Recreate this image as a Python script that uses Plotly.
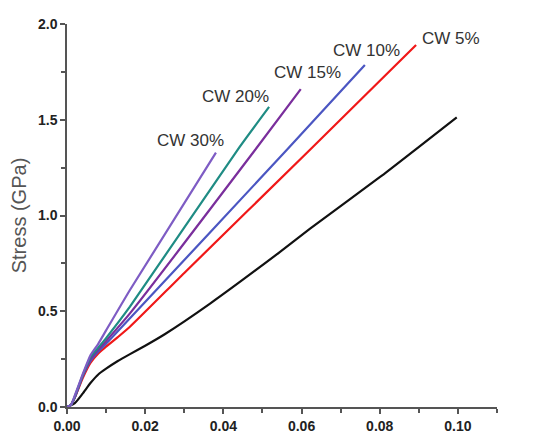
import plotly.graph_objects as go

# Strain values (x) and stress values (GPa) per sample
neat_x = [0, 0.002, 0.004, 0.006, 0.008, 0.010, 0.013, 0.016, 0.02, 0.025, 0.0366, 0.0545, 0.0621, 0.08, 0.0997]
neat_y = [0, 0.02, 0.07, 0.125, 0.17, 0.20, 0.24, 0.275, 0.32, 0.38, 0.54, 0.81, 0.93, 1.20, 1.513]

cw5_x = [0, 0.001, 0.002, 0.004, 0.006, 0.008, 0.010, 0.013, 0.0161, 0.03, 0.0621, 0.0893]
cw5_y = [0, 0.01, 0.05, 0.15, 0.23, 0.28, 0.315, 0.365, 0.419, 0.70, 1.342, 1.89]

cw10_x = [0, 0.001, 0.002, 0.004, 0.006, 0.008, 0.010, 0.0161, 0.0562, 0.0762]
cw10_y = [0, 0.01, 0.05, 0.16, 0.24, 0.29, 0.33, 0.463, 1.342, 1.786]

cw15_x = [0, 0.001, 0.002, 0.004, 0.006, 0.008, 0.010, 0.0161, 0.0481, 0.0598]
cw15_y = [0, 0.01, 0.05, 0.16, 0.25, 0.30, 0.345, 0.489, 1.342, 1.66]

cw20_x = [0, 0.001, 0.002, 0.004, 0.006, 0.008, 0.010, 0.0161, 0.0436, 0.0517]
cw20_y = [0, 0.01, 0.055, 0.165, 0.26, 0.31, 0.36, 0.524, 1.342, 1.567]

cw30_x = [0, 0.001, 0.002, 0.004, 0.006, 0.008, 0.010, 0.0161, 0.0381]
cw30_y = [0, 0.01, 0.06, 0.17, 0.27, 0.33, 0.40, 0.611, 1.328]

series = [
    ("Neat PVA", neat_x, neat_y, "#111111", (0.1110, 1.525)),
    ("CW 5%", cw5_x, cw5_y, "#f01818", (0.0982, 1.922)),
    ("CW 10%", cw10_x, cw10_y, "#4b56c2", (0.0765, 1.864)),
    ("CW 15%", cw15_x, cw15_y, "#7a2e9c", (0.0616, 1.749)),
    ("CW 20%", cw20_x, cw20_y, "#1f8c84", (0.0430, 1.619)),
    ("CW 30%", cw30_x, cw30_y, "#7e5cc4", (0.0315, 1.394)),
]

fig = go.Figure()
annotations = []
for name, xs, ys, color, (lx, ly) in series:
    fig.add_trace(go.Scatter(x=xs, y=ys, mode="lines", name=name,
                             line=dict(color=color, width=2.2, shape="spline", smoothing=0.5)))
    annotations.append(dict(x=lx, y=ly, xref="x", yref="y", text=name, showarrow=False,
                            font=dict(family="Liberation Sans, Arial", size=17, color="#333333")))

axis_common = dict(
    showline=True, linecolor="#555555", linewidth=1.5,
    ticks="outside", ticklen=5, tickwidth=1.5, tickcolor="#555555",
    showgrid=False, zeroline=False, automargin=False,
    tickfont=dict(family="Liberation Sans, Arial", size=14, color="#222222", weight="bold"),
)

fig.update_layout(
    width=542, height=433,
    margin=dict(l=67, r=45, t=24, b=26),
    paper_bgcolor="white", plot_bgcolor="white",
    showlegend=False,
    annotations=annotations,
    xaxis=dict(range=[0, 0.11], tickvals=[0, 0.02, 0.04, 0.06, 0.08, 0.10],
               ticktext=["0.00", "0.02", "0.04", "0.06", "0.08", "0.10"],
               minor=dict(dtick=0.01, tick0=0, ticks="outside", ticklen=4, tickwidth=1.5, tickcolor="#555555"),
               **axis_common),
    yaxis=dict(range=[0, 2.0], tickvals=[0, 0.5, 1.0, 1.5, 2.0],
               ticktext=["0.0", "0.5", "1.0", "1.5", "2.0"],
               minor=dict(dtick=0.25, tick0=0, ticks="outside", ticklen=4, tickwidth=1.5, tickcolor="#555555"),
               title=dict(text="Stress (GPa)", standoff=6,
                          font=dict(family="Liberation Sans, Arial", size=20, color="#555555")),
               **axis_common),
)

fig.write_html("out.html")
